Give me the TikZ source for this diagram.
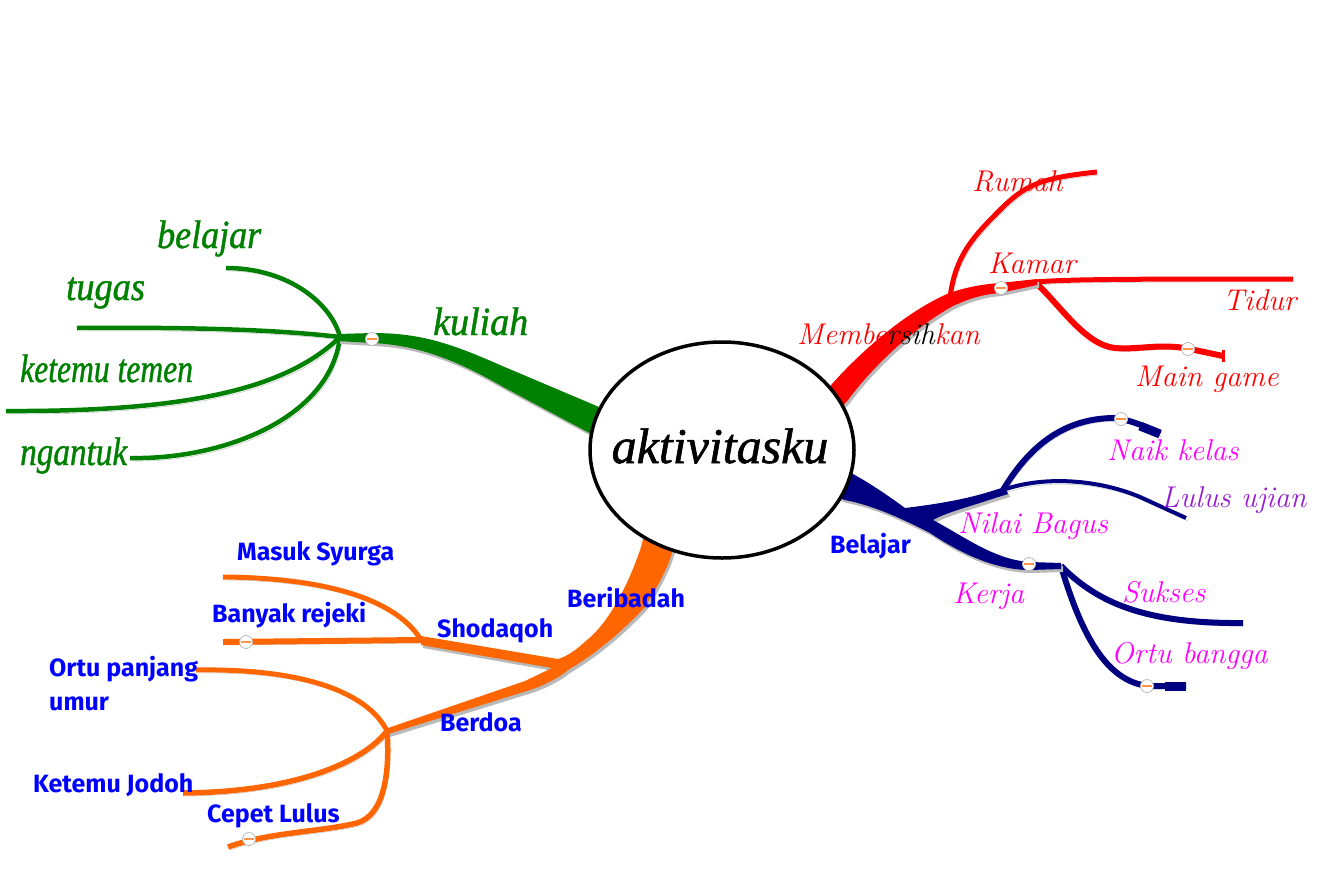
\documentclass[tikz,border=0pt]{standalone}
\usepackage{fontspec}
\newfontfamily\comicf{Fira Sans}
\newfontfamily\handf{Liberation Serif}[FakeBold=1.2]
\usetikzlibrary{calc,shapes.geometric}
\definecolor{gr}{RGB}{0,128,0}
\definecolor{rd}{RGB}{255,0,0}
\definecolor{nv}{RGB}{0,0,128}
\definecolor{orn}{RGB}{255,102,0}
\definecolor{bl}{RGB}{0,0,255}
\definecolor{mg}{RGB}{255,0,255}
\definecolor{pu}{RGB}{150,30,210}
\definecolor{shg}{RGB}{185,185,185}
\begin{document}
\begin{tikzpicture}[x=1pt,y=-1pt,
  br/.style={draw=#1, line cap=butt, preaction={draw=shg, transform canvas={shift={(2pt,-3pt)}}}},
  trunk/.style={fill=#1, preaction={fill=shg, transform canvas={shift={(2pt,-3pt)}}}},
  glab/.style={anchor=base west, inner sep=0pt, text=gr, font=\fontsize{40}{40}\selectfont\handf\itshape},
  rlab/.style={anchor=base west, inner sep=0pt, text=#1, font=\fontsize{30}{30}\selectfont\itshape},
  blab/.style={anchor=base west, inner sep=0pt, text=bl, font=\fontsize{25}{25}\selectfont\comicf\bfseries},
  bead/.style={circle, minimum size=13pt, inner sep=0pt, fill=white, draw=shg, line width=0.8pt,
    path picture={\draw[orn!70, line width=2pt] ([xshift=-5pt]path picture bounding box.center) -- ([xshift=5pt]path picture bounding box.center);}},
]
\useasboundingbox (0,0) rectangle (1338,870);
\fill[white] (0,0) rectangle (1338,870);

% ---------------- GREEN ----------------
\coordinate (gJ) at (340,337);
\coordinate (gBel) at (226,268);
\coordinate (gTug) at (77,328);
\coordinate (gKet) at (6,411);
\coordinate (gNga) at (130,458);
\draw[br=gr, line width=4.5] (gJ) .. controls (332,305) and (290,268) .. (gBel);
\draw[br=gr, line width=4.5] (gJ) .. controls (280,330) and (200,327) .. (gTug);
\draw[br=gr, line width=4.5] (gJ) .. controls (290,385) and (200,412) .. (gKet);
\draw[br=gr, line width=4.5] (gJ) .. controls (330,420) and (220,460) .. (gNga);
\path[trunk=gr] (338,334) -- (372,333) .. controls (420,333) and (450,343) .. (500,365) -- (625,418) -- (610,444) -- (505,388) .. controls (460,362) and (420,345) .. (372,343) -- (338,341) -- cycle;
\node[bead] (gB) at (372,339) {};

% ---------------- RED ----------------
\coordinate (rJa) at (950,298);
\coordinate (rJ) at (1035,282);
\coordinate (rRum) at (1097,172);
\coordinate (rTid) at (1293,279);
\coordinate (rMain) at (1223,356);
\draw[br=rd, line width=5] (rJa) .. controls (955,255) and (975,235) .. (1000,210) .. controls (1025,185) and (1040,178) .. (rRum);
\draw[br=rd, line width=5] (rJ) .. controls (1070,279) and (1150,279) .. (rTid);
\draw[br=rd, line width=6] (rJ) .. controls (1060,305) and (1085,345) .. (1115,348) .. controls (1140,350) and (1160,343) .. (1190,349) -- (rMain);
\draw[rd, line width=3] ($(rMain)+(0,-6)$) -- ($(rMain)+(0,6)$);
\path[trunk=rd] (797,422) -- (832,384) .. controls (855,358) and (900,315) .. (947,294) .. controls (965,287) and (985,284) .. (1000,283) -- (1037,279) -- (1037,285) -- (1000,293) .. controls (985,294) and (970,298) .. (953,306) .. controls (910,330) and (870,370) .. (848,400) -- (813,438) -- cycle;
\node[bead] (rB1) at (1001,288) {};
\node[bead] (rB2) at (1188,349) {};

% ---------------- NAVY ----------------
\coordinate (bJu) at (1003,490);
\coordinate (bJl) at (1061,566);
\coordinate (bNaik) at (1160,434);
\coordinate (bLul) at (1186,518);
\coordinate (bSuk) at (1243,623);
\coordinate (bOrt) at (1186,686);
\draw[br=nv, line width=6] (bJu) .. controls (1030,445) and (1065,418) .. (1115,418) .. controls (1130,420) and (1145,426) .. (bNaik);
\draw[nv, line width=9] (1140,426) -- (bNaik);
\draw[br=nv, line width=4] (bJu) .. controls (1045,475) and (1100,480) .. (1140,497) -- (bLul);
\draw[br=nv, line width=6] (bJl) .. controls (1095,600) and (1140,624) .. (bSuk);
\draw[br=nv, line width=6] (bJl) .. controls (1080,630) and (1105,683) .. (1150,686) -- (bOrt);
\draw[nv, line width=9] (1165,686) -- (bOrt);
\path[trunk=nv] (815,460) -- (851,473) .. controls (870,483) and (890,497) .. (905,508) .. controls (930,505) and (965,500) .. (995,490) -- (1005,487) -- (1008,494) -- (995,498) .. controls (965,508) and (945,513) .. (933,520) .. controls (965,537) and (995,560) .. (1030,562) -- (1061,563) -- (1061,569) -- (1030,570) .. controls (995,570) and (960,553) .. (930,533) .. controls (895,515) and (870,505) .. (845,500) -- (815,490) -- cycle;
\node[bead] (bB0) at (1121,419) {};
\node[bead] (bB1) at (1029,564) {};
\node[bead] (bB2) at (1147,686) {};

% ---------------- ORANGE ----------------
\coordinate (oJs) at (421,640);
\coordinate (oJb) at (387,731);
\coordinate (oMas) at (223,577);
\coordinate (oBan) at (223,642);
\coordinate (oOrt) at (196,670);
\coordinate (oKet) at (183,793);
\coordinate (oCep) at (228,847);
\draw[br=orn, line width=5] (oJs) .. controls (400,605) and (340,578) .. (oMas);
\draw[br=orn, line width=6] (oJs) -- (oBan);
\draw[br=orn, line width=5] (oJb) .. controls (372,700) and (320,668) .. (oOrt);
\draw[br=orn, line width=5.5] (oJb) .. controls (365,760) and (300,792) .. (oKet);
\draw[br=orn, line width=5.5] (oJb) .. controls (390,770) and (385,815) .. (357,823) .. controls (320,832) and (270,832) .. (oCep);
\path[trunk=orn] (648,520) -- (641,547) .. controls (632,575) and (612,620) .. (587,640) .. controls (576,650) and (568,656) .. (558,659) -- (421,636) -- (421,645) -- (552,668) -- (525,681) -- (388,728) -- (388,734) -- (530,690) .. controls (545,685) and (560,677) .. (568,670) .. controls (602,650) and (628,625) .. (645,607) .. controls (658,585) and (667,570) .. (672,553) -- (682,528) -- cycle;
\node[bead] (oB1) at (246,642) {};
\node[bead] (oB2) at (249,839) {};

% ---------------- CENTRE ----------------
\node[ellipse, draw=black, line width=3.5pt, fill=white, minimum width=264pt, minimum height=216pt, inner sep=0pt] (C) at (722,450) {};
\node[anchor=base, inner sep=0pt, font=\fontsize{50}{50}\selectfont\handf\itshape] (Ct) at (720,463) {aktivitasku};

% ---------------- LABELS ----------------
\node[glab] (lBel) at (157,248) {\scalebox{0.9}[1]{belajar}};
\node[glab] (lTug) at (66,300) {\scalebox{0.91}[1]{tugas}};
\node[glab] (lKul) at (433,335) {\scalebox{0.95}[1]{kuliah}};
\node[glab] (lKet) at (20,382) {\scalebox{0.79}[1]{ketemu temen}};
\node[glab] (lNga) at (20,465) {\scalebox{0.83}[1]{ngantuk}};

\node[rlab=rd] (lRum) at (972,191) {Rumah};
\node[rlab=rd] (lKam) at (988,273) {Kamar};
\node[rlab=rd] (lTid) at (1223,310) {Tidur};
\node[rlab=rd] (lMem) at (797,344) {Membe\textcolor{black}{rsih}kan};
\node[rlab=rd] (lMain) at (1135,386) {Main game};

\node[rlab=mg] (lNaik) at (1107,460) {Naik kelas};
\node[rlab=pu] (lLul) at (1161,507) {Lulus ujian};
\node[rlab=mg] (lNil) at (958,533) {Nilai Bagus};
\node[rlab=mg] (lKer) at (953,603) {Kerja};
\node[rlab=mg] (lSuk) at (1122,602) {Sukses};
\node[rlab=mg] (lOrtb) at (1111,663) {Ortu bangga};
\node[blab] (lBlj) at (830,553) {Belajar};

\node[blab] (lMas) at (237,560) {Masuk Syurga};
\node[blab] (lBan) at (212,622) {Banyak rejeki};
\node[blab] (lSho) at (437,637) {Shodaqoh};
\node[blab] (lBer) at (567,607) {Beribadah};
\node[blab] (lOrt) at (49,676) {Ortu panjang};
\node[blab] (lUmu) at (49,710) {umur};
\node[blab] (lBerd) at (440,731) {Berdoa};
\node[blab] (lKetJ) at (33,792) {Ketemu Jodoh};
\node[blab] (lCep) at (207,822) {Cepet Lulus};
\end{tikzpicture}
\end{document}
